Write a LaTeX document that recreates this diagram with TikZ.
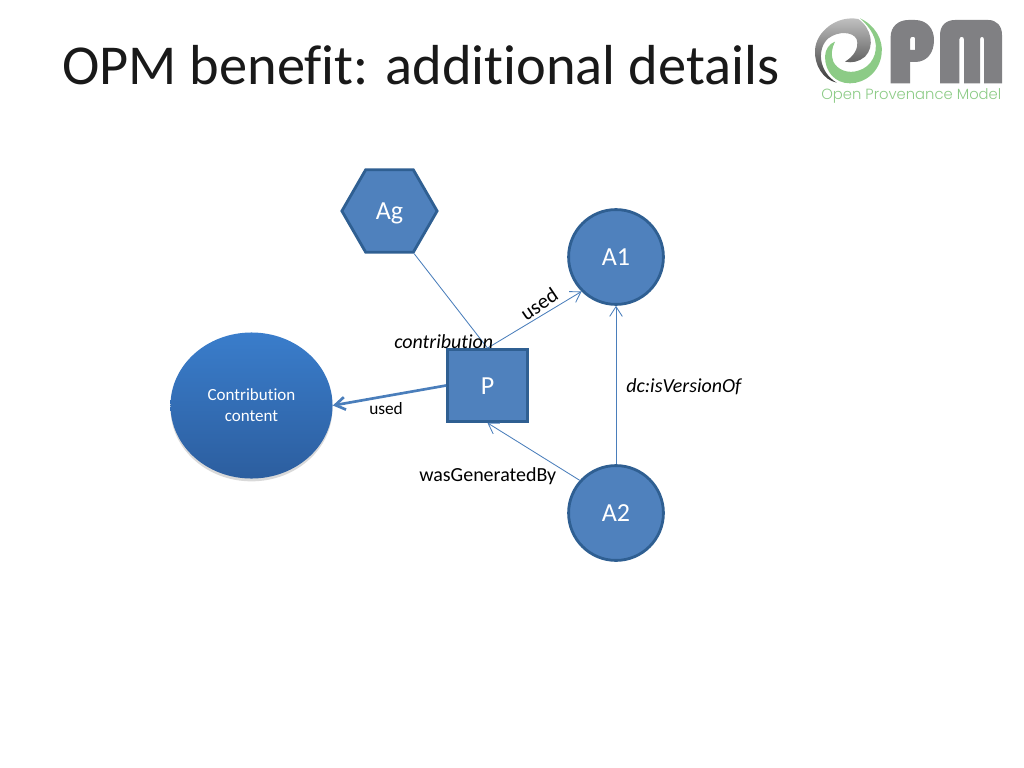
\documentclass[tikz,border=0pt]{standalone}
\usepackage{fontspec}
\setmainfont[Ligatures=NoCommon]{Carlito}
\newfontfamily\logofont{Poppins Light}
\usetikzlibrary{arrows.meta,shapes.geometric,shadows}
\definecolor{nodefill}{HTML}{4F81BD}
\definecolor{nodeline}{HTML}{2F5F92}
\definecolor{edgeline}{HTML}{4A7EBB}
\definecolor{logogray}{HTML}{808083}
\definecolor{logogreen}{HTML}{8CCB86}
\definecolor{contenttop}{HTML}{3A7DCB}
\definecolor{contentbottom}{HTML}{2C5E9F}
\tikzset{
  opmnode/.style={fill=nodefill,draw=nodeline,line width=2pt,text=white,text height=15pt,text depth=2.4pt,font=\fontsize{18.5}{22}\selectfont},
  artifact/.style={opmnode,circle,minimum size=2.37cm,inner sep=0pt},
  edgelabel/.style={font=\fontsize{14.2}{16}\selectfont,inner sep=0pt},
  thinedge/.style={edgeline,line width=0.6pt},
  barb/.style={-{Straight Barb[length=7pt,width=9pt]}}
}
\begin{document}
\begin{tikzpicture}[x=0.025cm,y=-0.025cm]
\useasboundingbox (0,0) rectangle (1024,768);

% Title
\node[anchor=base west,inner sep=0pt,font=\fontsize{40.1}{46}\selectfont,text=black!90] (title) at (62,85) {OPM benefit: additional details};

% Logo
\begin{scope}[shift={(800,0)},x=0.025cm/3,y=-0.025cm/3]
\shade[top color=black!22,bottom color=black!78]
  (175,57) .. controls (215,85) and (225,140) .. (195,170)
  .. controls (178,185) and (155,190) .. (135,185)
  .. controls (160,170) and (178,145) .. (170,118)
  .. controls (160,95) and (115,92) .. (85,115)
  .. controls (50,145) and (55,215) .. (110,248)
  .. controls (70,240) and (42,195) .. (45,150)
  .. controls (48,95) and (110,45) .. (175,57) -- cycle;
\fill[logogreen]
  (180,55) .. controls (225,75) and (250,120) .. (245,160)
  .. controls (240,215) and (195,250) .. (150,250)
  .. controls (105,250) and (75,215) .. (75,170)
  .. controls (75,150) and (88,130) .. (105,125)
  .. controls (95,145) and (92,165) .. (100,185)
  .. controls (112,210) and (145,222) .. (175,212)
  .. controls (215,200) and (235,160) .. (225,120)
  .. controls (218,95) and (200,72) .. (180,55) -- cycle;
\fill[logogray,even odd rule]
  (272,250) -- (272,110) .. controls (272,80) and (295,60) .. (325,60)
  -- (345,60) .. controls (380,60) and (402,85) .. (402,120)
  .. controls (402,160) and (380,186) .. (345,186) -- (330,186) -- (330,250) -- cycle
  (330,150) -- (345,150) -- (345,115) .. controls (345,108) and (330,108) .. (330,118) -- cycle;
\fill[logogray]
  (420,250) -- (420,105) .. controls (420,75) and (440,60) .. (465,60)
  -- (565,60) .. controls (590,60) and (606,78) .. (606,105) -- (606,250) -- (552,250)
  -- (552,118) .. controls (552,108) and (540,108) .. (540,118) -- (540,250)
  -- (492,250) -- (492,118) .. controls (492,108) and (478,108) .. (478,118) -- (478,250) -- cycle;
\end{scope}
\node[anchor=base west,inner sep=0pt,text=logogreen,font=\logofont\fontsize{10.5}{12}\selectfont] (logotext) at (821,100) {Open Provenance Model};

% Nodes
\node[opmnode,regular polygon,regular polygon sides=6,minimum size=2.38cm,inner sep=0pt] (Ag) at (389.5,211) {Ag};
\node[artifact] (A1) at (616,257) {A1};
\node[artifact] (A2) at (616,513) {A2};
\node[opmnode,rectangle,minimum width=2cm,minimum height=1.8cm,inner sep=0pt] (P) at (487.5,385.5) {P};
\node[ellipse,minimum width=4.05cm,minimum height=3.65cm,inner sep=0pt,align=center,text=white,
  top color=contenttop,bottom color=contentbottom,
  drop shadow={shadow xshift=0pt,shadow yshift=-2pt,opacity=0.15,fill=black},
  font=\fontsize{12.1}{15}\selectfont] (content) at (251.5,405.5) {Contribution\\content};

% Edges
\draw[thinedge] (Ag.corner 5) -- (P.north);
\draw[thinedge,barb] (P.north) -- (A1.225);
\draw[thinedge,barb] (A2.north) -- (A1.south);
\draw[thinedge,barb] (A2.138) -- (P.south);
\draw[edgeline,line width=1.9pt,-{Straight Barb[length=7pt,width=9pt]}] (P.west) -- (content.east);

% Labels
\node[edgelabel,rotate=34] (usedA) at (539,304) {\fontsize{14.8}{18}\selectfont used};
\node[edgelabel,anchor=base west] (contribution) at (394,348) {\itshape contribution};
\node[edgelabel,anchor=base west] (usedC) at (369,414) {\fontsize{12.3}{15}\selectfont used};
\node[edgelabel,anchor=base west] (generated) at (419,481) {wasGeneratedBy};
\node[edgelabel,anchor=base west] (version) at (626,392) {\itshape dc:isVersionOf};
\end{tikzpicture}
\end{document}
